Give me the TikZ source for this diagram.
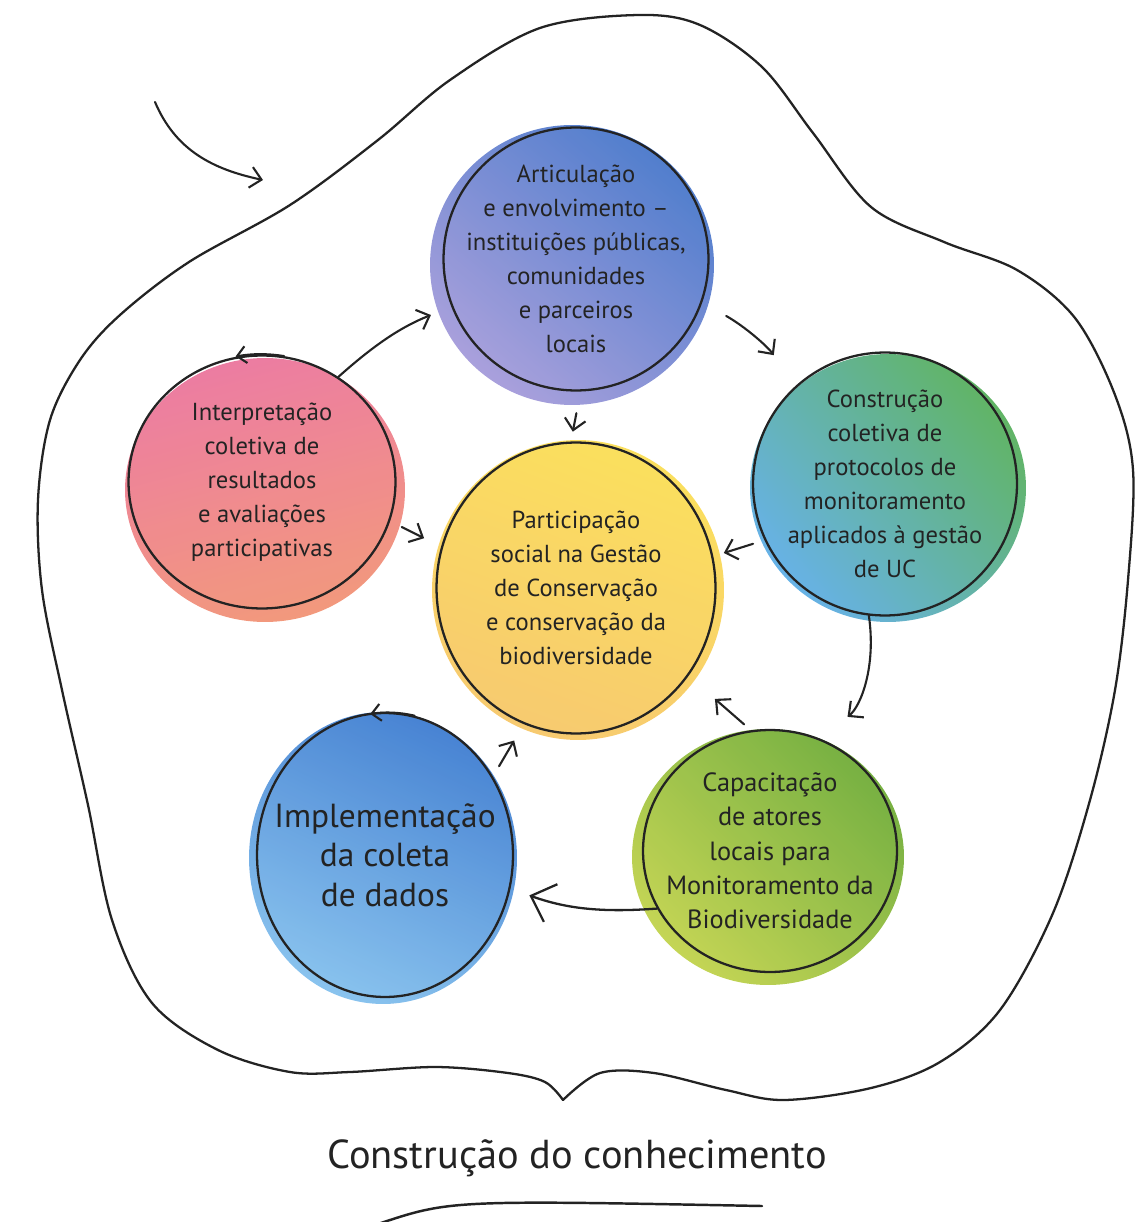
\documentclass[tikz,border=0pt]{standalone}
\usepackage{fontspec}
\setmainfont{PT Sans}
\usetikzlibrary{arrows.meta,shapes.geometric,positioning}
\definecolor{inkgray}{RGB}{35,35,35}
\definecolor{articblue}{RGB}{62,112,200}
\definecolor{articlilac}{RGB}{160,150,216}
\definecolor{interppink}{RGB}{234,110,152}
\definecolor{interpsalmon}{RGB}{241,142,110}
\definecolor{particyellow}{RGB}{250,220,76}
\definecolor{particorange}{RGB}{246,196,96}
\definecolor{particlight}{RGB}{252,234,150}
\definecolor{constrgreen}{RGB}{80,172,84}
\definecolor{constrcyan}{RGB}{86,170,228}
\definecolor{implblue}{RGB}{52,118,206}
\definecolor{impllight}{RGB}{124,188,236}
\definecolor{capacgreen}{RGB}{104,168,46}
\definecolor{capaclime}{RGB}{190,208,66}
\tikzset{
	bubble/.style={ellipse,draw=inkgray,line width=1.3pt,align=center,inner sep=-2cm,text=inkgray,font=\fontsize{14}{19.3}\selectfont},
	flow/.style={-{Straight Barb[length=2.2mm,width=4.2mm]},line width=1.2pt,draw=inkgray},
	bigflow/.style={-{Straight Barb[length=4.2mm,width=8mm]},line width=1.3pt,draw=inkgray},
	wash/.style={opacity=.9},
}
\begin{document}
\begin{tikzpicture}[x=0.02cm,y=-0.02cm,line cap=round,line join=round]
	\useasboundingbox (0,0) rectangle (1139,1222);
	\path
	(576,259) coordinate (A)
	(262,482) coordinate (I)
	(576,588) coordinate (P)
	(885,484) coordinate (C)
	(385,855) coordinate (M)
	(770,851) coordinate (K)
	(155,102) coordinate (start-a)
	(263,180) coordinate (start-b)
	(378,1224) coordinate (swoosh-l)
	(762,1206) coordinate (swoosh-r)
	;
	% watercolour washes
	\shade[wash,top color=articblue,bottom color=articlilac,shading angle=-40] (572,265) ellipse[x radius=2.84cm,y radius=2.8cm];
	\shade[wash,top color=interppink,bottom color=interpsalmon,shading angle=15] (265,490) ellipse[x radius=2.8cm,y radius=2.64cm];
	\shade[wash,top color=particyellow,middle color=particlight,bottom color=particorange,shading angle=-20] (578,590) ellipse[x radius=2.92cm,y radius=3cm];
	\shade[wash,top color=constrgreen,bottom color=constrcyan,shading angle=-50] (888,488) ellipse[x radius=2.76cm,y radius=2.68cm];
	\shade[wash,top color=implblue,bottom color=impllight,shading angle=-25] (383,858) ellipse[x radius=2.68cm,y radius=2.92cm];
	\shade[wash,top color=capacgreen,bottom color=capaclime,shading angle=-45] (768,857) ellipse[x radius=2.72cm,y radius=2.56cm];
	
	\node[bubble,minimum width=5.3cm,minimum height=5.26cm] (artic) at (A) {Articulação\\e envolvimento –\\instituições públicas,\\comunidades\\e parceiros\\locais};
	\node[bubble,minimum width=5.34cm,minimum height=5.06cm] (interp) at (I) {Interpretação\\coletiva de\\resultados\\e avaliações\\participativas};
	\node[bubble,minimum width=5.58cm,minimum height=5.82cm] (partic) at (P) {Participação\\social na Gestão\\de Conservação\\e conservação da\\biodiversidade};
	\node[bubble,minimum width=5.28cm,minimum height=5.26cm] (constr) at (C) {Construção\\coletiva de\\protocolos de\\monitoramento\\aplicados à gestão\\de UC};
	\node[bubble,minimum width=5.12cm,minimum height=5.68cm,font=\fontsize{19}{22.5}\selectfont] (impl) at (M) {Implementação\\da coleta\\de dados};
	\node[bubble,minimum width=5.08cm,minimum height=4.84cm,font=\fontsize{15}{19.5}\selectfont] (capac) at (K) {Capacitação\\de atores\\locais para\\Monitoramento da\\Biodiversidade};
	
	\draw[flow] (start-a) to[out=-67,in=168] (start-b);
	\draw[flow,shorten >=0.44cm] (interp.54) to[bend left=10] (artic.201);
	\draw[flow,shorten <=0.55cm,shorten >=0.75cm] (artic.-19) to[bend left=12] (constr.132);
	\draw[flow,shorten <=0.44cm,shorten >=0.2cm] (artic.-88) -- (partic.92);
	\draw[flow,shorten <=0.26cm,shorten >=0.38cm] (interp.-17) -- (partic.163);
	\draw[flow,shorten <=0.24cm,shorten >=0.22cm] (constr.205) -- (partic.13);
	\draw[flow,shorten >=0.7cm] (constr.-97) to[bend left=30] (capac.66);
	\draw[flow,shorten <=0.18cm,shorten >=0.7cm] (capac.99) -- (partic.-38);
	\draw[flow,shorten <=0.24cm,shorten >=0.38cm] (impl.36) -- (partic.-111);
	\draw[bigflow,shorten >=0.4cm] (capac.207) to[bend left=12] (impl.-15);
	\draw[flow,-{Straight Barb[length=1.8mm,width=3.4mm]}] (interp.80) arc[start angle=80,end angle=101,x radius=2.67cm,y radius=2.53cm];
	\draw[flow,-{Straight Barb[length=1.8mm,width=3.4mm]}] (impl.78) arc[start angle=78,end angle=98,x radius=2.56cm,y radius=2.84cm];
	
	% outer contour
	\draw[line width=1.3pt,inkgray] plot[smooth,tension=.55] coordinates {
		(563,1100) (545,1082) (508,1073) (436,1067) (350,1072) (290,1072) (218,1050) (152,1003)
		(112,920) (88,805) (62,690) (42,590) (38,500) (50,420) (80,360) (120,315) (189,262)
		(290,205) (378,140) (450,80) (540,28) (639,15) (700,25) (762,67) (813,133) (871,207)
		(944,242) (1017,270) (1075,318) (1115,395) (1133,470) (1128,580) (1115,690) (1090,800)
		(1053,913) (1000,1010) (940,1062) (871,1088) (784,1100) (726,1090) (654,1073) (600,1073) (563,1100)};
	
	\node[font=\fontsize{23}{28}\selectfont,text=inkgray] (title) at (577,1158) {Construção do conhecimento};
	\draw[line width=1.4pt,inkgray] (swoosh-l) .. controls (450,1200) .. (swoosh-r);
\end{tikzpicture}
\end{document}
